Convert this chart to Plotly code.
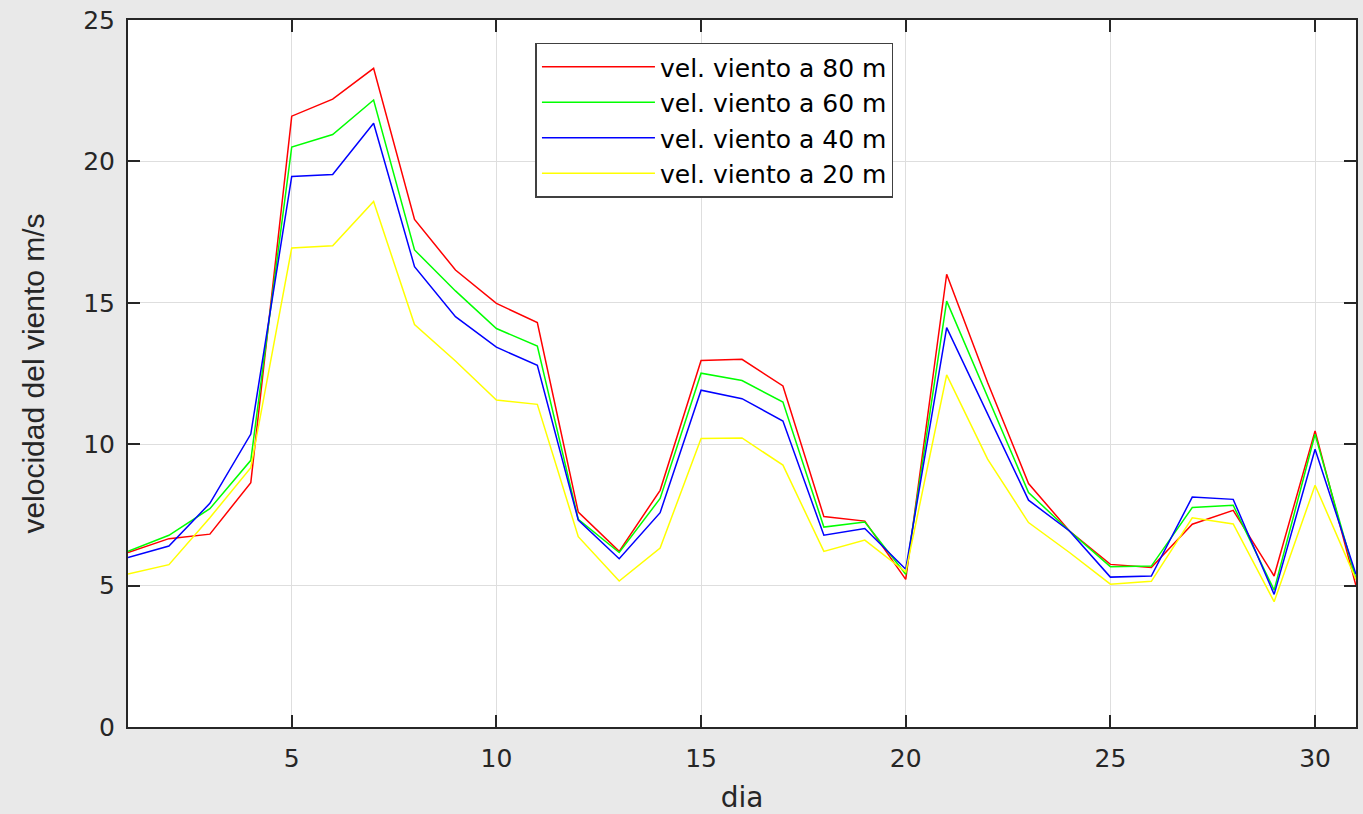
import plotly.graph_objects as go

dias = list(range(1, 32))

v80 = [6.17, 6.66, 6.82, 8.64, 21.6, 22.2, 23.29, 17.95, 16.16, 14.98, 14.30,
       7.60, 6.21, 8.37, 12.96, 13.00, 12.06, 7.44, 7.28, 5.22, 16.01,
       12.18, 8.61, 6.93, 5.75, 5.64, 7.17, 7.66, 5.34, 10.47, 4.99]
v60 = [6.21, 6.78, 7.72, 9.43, 20.51, 20.95, 22.17, 16.87, 15.42, 14.09, 13.47,
       7.34, 6.17, 8.08, 12.51, 12.25, 11.49, 7.07, 7.25, 5.40, 15.06,
       11.65, 8.29, 6.93, 5.67, 5.69, 7.76, 7.84, 4.84, 10.35, 5.22]
v40 = [5.99, 6.40, 7.91, 10.36, 19.47, 19.54, 21.35, 16.28, 14.51, 13.43, 12.79,
       7.32, 5.95, 7.58, 11.91, 11.61, 10.82, 6.78, 7.02, 5.58, 14.12,
       11.06, 8.02, 6.93, 5.30, 5.34, 8.13, 8.05, 4.69, 9.82, 5.40]
v20 = [5.41, 5.74, 7.40, 9.17, 16.94, 17.02, 18.58, 14.23, 12.94, 11.56, 11.41,
       6.73, 5.16, 6.33, 10.20, 10.22, 9.26, 6.21, 6.61, 5.48, 12.45,
       9.47, 7.23, 6.17, 5.05, 5.15, 7.40, 7.18, 4.43, 8.55, 5.22]

series = [
    ("vel. viento a 80 m", v80, "#ff0000"),
    ("vel. viento a 60 m", v60, "#00ff00"),
    ("vel. viento a 40 m", v40, "#0000ff"),
    ("vel. viento a 20 m", v20, "#ffff00"),
]

x_ticks = [5, 10, 15, 20, 25, 30]
y_ticks = [0, 5, 10, 15, 20, 25]

fig = go.Figure()
for name, vals, col in series:
    fig.add_trace(go.Scatter(x=dias, y=vals, mode="lines", name=name,
                             line=dict(color=col, width=1.5)))

wide_font = "DejaVu Sans, Verdana, sans-serif"
base_font = "Liberation Sans, Arial, sans-serif"
axis_common = dict(
    showline=True, linecolor="#262626", linewidth=2, mirror="ticks",
    ticks="inside", ticklen=12, tickwidth=2, tickcolor="#262626",
    showgrid=True, gridcolor="#dedede", gridwidth=1, zeroline=False,
    tickfont=dict(family=wide_font, size=25, color="#262626"),
)

fig.update_layout(
    width=1363, height=814,
    margin=dict(l=128, r=5, t=20, b=86),
    paper_bgcolor="#e9e9e9",
    plot_bgcolor="#ffffff",
    font=dict(family=wide_font, color="#262626"),
    xaxis=dict(range=[1, 31], tickvals=x_ticks, ticklabelstandoff=8,
               title=dict(text="dia", font=dict(family=wide_font, size=28, color="#262626"), standoff=16),
               **axis_common),
    yaxis=dict(range=[0, 25], tickvals=y_ticks, ticklabelstandoff=6,
               title=dict(text="velocidad del viento m/s", font=dict(family=base_font, size=30, color="#262626"), standoff=30),
               **axis_common),
    legend=dict(x=0.3318, y=0.968, xanchor="left", yanchor="top",
                bgcolor="#ffffff", bordercolor="#404040", borderwidth=1.5,
                font=dict(family=wide_font, size=25, color="#000000"),
                itemwidth=113, tracegroupgap=0),
    showlegend=True,
)

fig.write_html("out.html")
